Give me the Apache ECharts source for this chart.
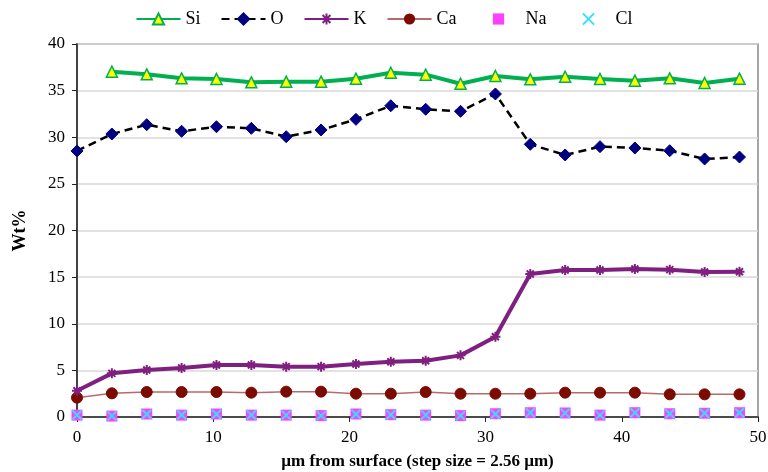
<!DOCTYPE html>
<html><head><meta charset="utf-8">
<script src="https://cdn.jsdelivr.net/npm/echarts@6/dist/echarts.min.js"></script>
<style>html,body{margin:0;padding:0;background:#fff}#c{width:768px;height:472px}</style>
</head><body><div id="c"></div>
<script>
const step = 2.56;
const positions = [0,1,2,3,4,5,6,7,8,9,10,11,12,13,14,15,16,17,18,19].map(i => +(i*step).toFixed(2));
const Si = [null,37.03,36.75,36.32,36.25,35.89,35.96,35.96,36.28,36.92,36.71,35.74,36.57,36.21,36.49,36.25,36.07,36.32,35.82,36.28];
const O  = [28.53,30.35,31.35,30.64,31.13,30.96,30.06,30.78,31.92,33.38,33.0,32.78,34.64,29.24,28.1,28.99,28.85,28.56,27.67,27.88];
const K  = [2.82,4.68,5.04,5.25,5.58,5.58,5.4,5.4,5.68,5.93,6.04,6.61,8.61,15.34,15.76,15.76,15.87,15.8,15.55,15.58];
const Ca = [2.07,2.54,2.68,2.68,2.68,2.61,2.72,2.72,2.5,2.5,2.68,2.5,2.5,2.5,2.61,2.61,2.61,2.43,2.43,2.43];
const Na = [0.2,0.1,0.32,0.2,0.32,0.2,0.2,0.15,0.32,0.25,0.2,0.15,0.35,0.46,0.43,0.2,0.46,0.35,0.4,0.46];
const Cl = [0.22,0.12,0.3,0.22,0.3,0.22,0.2,0.15,0.3,0.25,0.22,0.15,0.33,0.45,0.42,0.2,0.45,0.35,0.4,0.45];
const xTicks = [0,10,20,30,40,50];
const yTicks = [0,5,10,15,20,25,30,35,40];

const pair = arr => positions.map((x,i) => [x, arr[i]]);
const serif = '"Liberation Serif","DejaVu Serif",serif';
const asterisk = 'path://M5,0L5,10M0,5L10,5M1.5,1.5L8.5,8.5M8.5,1.5L1.5,8.5';
const cross = 'path://M0,0L10,10M10,0L0,10';

const chart = echarts.init(document.getElementById('c'));
chart.setOption({
  animation: false,
  backgroundColor: '#fff',
  textStyle: { fontFamily: serif },
  legend: {
    top: 5, left: 'center', itemWidth: 44, itemHeight: 14, itemGap: 20,
    textStyle: { fontFamily: serif, fontSize: 18, color: '#000' },
    data: ['Si','O','K','Ca','Na','Cl']
  },
  grid: { left: 77, right: 10, top: 44, bottom: 55, show: true, borderColor: '#888', borderWidth: 1.5,
          outerBoundsMode: 'none', containLabel: false },
  xAxis: {
    type: 'value', min: xTicks[0], max: xTicks[xTicks.length-1], interval: 10,
    name: 'µm from surface (step size = 2.56 µm)', nameLocation: 'middle', nameGap: 36,
    nameTextStyle: { fontFamily: serif, fontSize: 17, fontWeight: 'bold', color: '#000' },
    axisLine: { show: true, onZero: false, lineStyle: { color: '#222', width: 1.5 } },
    axisTick: { show: true, inside: false, length: 5, lineStyle: { color: '#222' } },
    axisLabel: { fontFamily: serif, fontSize: 17, color: '#000', margin: 12 },
    splitLine: { show: false }
  },
  yAxis: {
    type: 'value', min: yTicks[0], max: yTicks[yTicks.length-1], interval: 5,
    name: 'Wt%', nameLocation: 'middle', nameGap: 48, nameRotate: 90,
    nameTextStyle: { fontFamily: serif, fontSize: 18, fontWeight: 'bold', color: '#000' },
    axisLine: { show: true, lineStyle: { color: '#222', width: 1.5 } },
    axisTick: { show: true, inside: false, length: 5, lineStyle: { color: '#222' } },
    axisLabel: { fontFamily: serif, fontSize: 17, color: '#000', margin: 12 },
    splitLine: { show: true, lineStyle: { color: '#d9d9d9', width: 1.5 } }
  },
  series: [
    { name: 'Si', type: 'line', data: pair(Si), connectNulls: false,
      lineStyle: { color: '#00B050', width: 4 },
      symbol: 'triangle', symbolSize: 11,
      itemStyle: { color: '#FFFF00', borderColor: '#00B050', borderWidth: 1.5 }, z: 5 },
    { name: 'O', type: 'line', data: pair(O),
      lineStyle: { color: '#000', width: 2.5, type: [8,5] },
      symbol: 'diamond', symbolSize: 12,
      itemStyle: { color: '#000080', borderColor: '#000080', borderWidth: 1 }, z: 4 },
    { name: 'K', type: 'line', data: pair(K),
      lineStyle: { color: '#7F1F7F', width: 4 },
      symbol: asterisk, symbolSize: 10,
      itemStyle: { color: '#7F1F7F', borderColor: '#7F1F7F', borderWidth: 2 }, z: 4 },
    { name: 'Ca', type: 'line', data: pair(Ca),
      lineStyle: { color: '#B86A6A', width: 1.5 },
      symbol: 'circle', symbolSize: 11,
      itemStyle: { color: '#7B0A00', borderColor: '#7B0A00' }, z: 3 },
    { name: 'Na', type: 'line', data: pair(Na),
      lineStyle: { opacity: 0, width: 0 },
      symbol: 'rect', symbolSize: 11,
      itemStyle: { color: '#FF40FF' }, z: 2 },
    { name: 'Cl', type: 'line', data: pair(Cl),
      lineStyle: { opacity: 0, width: 0 },
      symbol: cross, symbolSize: 9,
      itemStyle: { color: 'rgba(0,0,0,0)', borderColor: '#33E0FF', borderWidth: 2 }, z: 3 }
  ]
});
</script></body></html>
